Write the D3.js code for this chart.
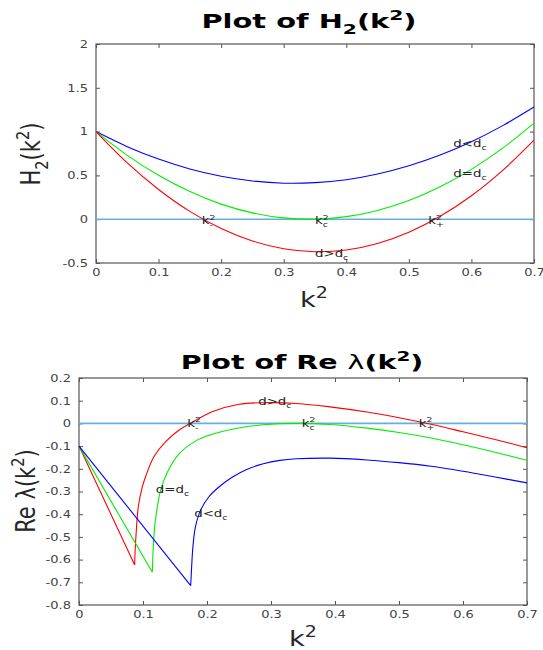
<!DOCTYPE html>
<html>
<head>
<meta charset="utf-8">
<script src="https://cdn.jsdelivr.net/npm/d3@7"></script>
<style>
  body { margin: 0; background: #fff; }
  text { font-family: "DejaVu Sans", sans-serif; }
</style>
</head>
<body>
<div id="chart"></div>
<script>
// ---- data ----
var kTop = [0, 0.05, 0.1, 0.15, 0.2, 0.25, 0.3, 0.35, 0.4, 0.45, 0.5, 0.55, 0.6, 0.65, 0.7];
var h2Blue  = [1, 0.828, 0.686, 0.573, 0.490, 0.436, 0.411, 0.417, 0.451, 0.516, 0.610, 0.733, 0.885, 1.068, 1.280];
var h2Green = [1, 0.729, 0.501, 0.315, 0.172, 0.072, 0.015, 0.001, 0.029, 0.100, 0.213, 0.370, 0.569, 0.811, 1.096];
var h2Red   = [1, 0.642, 0.339, 0.089, -0.107, -0.249, -0.337, -0.371, -0.351, -0.277, -0.149, 0.033, 0.268, 0.558, 0.902];

// second point of each Re(lambda) series is the cusp
var kRed   = [0, 0.087, 0.0875, 0.0896, 0.0927, 0.099, 0.104, 0.117, 0.135, 0.156, 0.174, 0.208, 0.25, 0.288, 0.34, 0.392, 0.45, 0.5, 0.55, 0.6, 0.65, 0.7];
var reRed  = [-0.1, -0.624, -0.573, -0.470, -0.367, -0.279, -0.235, -0.147, -0.081, -0.030, 0, 0.051, 0.084, 0.091, 0.088, 0.073, 0.050, 0.025, -0.004, -0.037, -0.071, -0.107];
var kGreen  = [0, 0.1146, 0.1156, 0.1177, 0.1208, 0.1276, 0.138, 0.156, 0.182, 0.208, 0.25, 0.288, 0.34, 0.392, 0.45, 0.5, 0.55, 0.6, 0.65, 0.7];
var reGreen = [-0.1, -0.656, -0.573, -0.470, -0.396, -0.294, -0.215, -0.135, -0.078, -0.048, -0.020, -0.006, 0, -0.005, -0.021, -0.040, -0.064, -0.094, -0.127, -0.162];
var kBlue  = [0, 0.1745, 0.176, 0.178, 0.182, 0.190, 0.203, 0.219, 0.240, 0.262, 0.288, 0.314, 0.34, 0.392, 0.45, 0.5, 0.55, 0.6, 0.65, 0.7];
var reBlue = [-0.1, -0.715, -0.632, -0.543, -0.455, -0.382, -0.323, -0.279, -0.236, -0.203, -0.178, -0.163, -0.156, -0.153, -0.161, -0.173, -0.189, -0.211, -0.236, -0.262];

var xTicks = [0, 0.1, 0.2, 0.3, 0.4, 0.5, 0.6, 0.7];
var yTicksTop = [-0.5, 0, 0.5, 1, 1.5, 2];
var yTicksBottom = [0.2, 0.1, 0, -0.1, -0.2, -0.3, -0.4, -0.5, -0.6, -0.7, -0.8];

// annotation: [k, value, parts]
var notesTop = [
  [0.571, 0.824, [["d"], ["<"], ["d"], ["c", "sub"]]],
  [0.571, 0.482, [["d"], ["="], ["d"], ["c", "sub"]]],
  [0.169, -0.055, [["k"], ["2", "sup"], ["-", "stack"]]],
  [0.350, -0.055, [["k"], ["2", "sup"], ["c", "stack"]]],
  [0.531, -0.055, [["k"], ["2", "sup"], ["+", "stack"]]],
  [0.350, -0.430, [["d"], [">"], ["d"], ["c", "sub"]]]
];
var notesBottom = [
  [0.280, 0.081, [["d"], [">"], ["d"], ["c", "sub"]]],
  [0.169, -0.014, [["k"], ["2", "sup"], ["-", "stack"]]],
  [0.348, -0.014, [["k"], ["2", "sup"], ["c", "stack"]]],
  [0.531, -0.014, [["k"], ["2", "sup"], ["+", "stack"]]],
  [0.120, -0.305, [["d"], ["="], ["d"], ["c", "sub"]]],
  [0.180, -0.411, [["d"], ["<"], ["d"], ["c", "sub"]]]
];

var svg = d3.select("#chart").append("svg")
    .attr("width", 543)
    .attr("height", 650);

var STRETCH = 1.24;

// text with sub/superscripts, parts = [[str, kind]]
function richText(g, parts, fs) {
    var t = g.append("text").attr("font-size", fs);
    var cur = 0;
    var lastSupW = 0;
    parts.forEach(function(p) {
        var kind = p[1] || "n";
        var shift = 0, size = fs, dx = 0;
        if (kind == "sup") { shift = -0.42 * fs; size = 0.7 * fs; lastSupW = 0.636 * size; }
        if (kind == "sub") { shift = 0.3 * fs; size = 0.7 * fs; }
        if (kind == "stack") { shift = 0.32 * fs; size = 0.7 * fs; dx = -lastSupW; }
        var ts = t.append("tspan")
            .attr("dy", shift - cur)
            .attr("dx", dx)
            .attr("font-size", size)
            .text(p[0]);
        if (kind == "plain") ts.attr("font-weight", "normal");
        cur = shift;
    });
    return t;
}

function placeText(x, y, parts, fs, opts) {
    opts = opts || {};
    var sx = opts.sx || STRETCH;
    var tr = "translate(" + x + "," + y + ") scale(" + sx + ",1)";
    if (opts.rotate) tr += " rotate(-90)";
    var g = svg.append("g").attr("transform", tr);
    var t = richText(g, parts, fs)
        .attr("text-anchor", opts.anchor || "start")
        .attr("fill", opts.fill || "#222");
    if (opts.bold) t.attr("font-weight", "bold");
    return t;
}

function drawPanel(box, yDomain, yTicks) {
    var x = d3.scaleLinear().domain([0, 0.7]).range([box.left, box.right]);
    var y = d3.scaleLinear().domain(yDomain).range([box.bottom, box.top]);

    var fmt = function(d) { return String(+d.toFixed(1)); };

    var gx = svg.append("g").attr("transform", "translate(0," + box.bottom + ")")
        .call(d3.axisBottom(x).tickValues(xTicks).tickSize(-4).tickSizeOuter(0).tickPadding(6).tickFormat(fmt));
    var gy = svg.append("g").attr("transform", "translate(" + box.left + ",0)")
        .call(d3.axisLeft(y).tickValues(yTicks).tickSize(-4).tickSizeOuter(0).tickPadding(6.5).tickFormat(fmt));
    svg.append("g").attr("transform", "translate(0," + box.top + ")")
        .call(d3.axisTop(x).tickValues(xTicks).tickSize(-4).tickSizeOuter(0).tickFormat(""));
    svg.append("g").attr("transform", "translate(" + box.right + ",0)")
        .call(d3.axisRight(y).tickValues(yTicks).tickSize(-4).tickSizeOuter(0).tickFormat(""));

    svg.selectAll(".domain").remove();
    svg.selectAll(".tick line").attr("stroke", "#555");
    [gx, gy].forEach(function(g) {
        g.selectAll("text")
            .attr("font-family", "DejaVu Sans")
            .attr("font-size", 10.5)
            .attr("fill", "#444")
            .attr("transform", "scale(" + STRETCH + ",1)");
    });

    svg.append("rect")
        .attr("x", box.left).attr("y", box.top)
        .attr("width", box.right - box.left)
        .attr("height", box.bottom - box.top)
        .attr("fill", "none")
        .attr("stroke", "#555")
        .attr("stroke-width", 1.2);

    // zero line
    svg.append("line")
        .attr("x1", x(0)).attr("x2", x(0.7))
        .attr("y1", y(0)).attr("y2", y(0))
        .attr("stroke", "#66b0e0")
        .attr("stroke-width", 1.6);

    return {x: x, y: y};
}

function addNotes(sc, notes) {
    notes.forEach(function(n) {
        placeText(sc.x(n[0]), sc.y(n[1]), n[2], 10.5, {sx: 1.27, fill: "#222"});
    });
}

// ---- top panel: H2(k^2) ----
var boxTop = {left: 96, right: 534, top: 44, bottom: 263};
var sc1 = drawPanel(boxTop, [-0.5, 2], yTicksTop);

var smooth1 = d3.line()
    .x(function(d, i) { return sc1.x(kTop[i]); })
    .y(function(d) { return sc1.y(d); })
    .curve(d3.curveCatmullRom);

[[h2Blue, "#0000ff"], [h2Green, "#00ee00"], [h2Red, "#ff0000"]].forEach(function(s) {
    svg.append("path")
        .attr("d", smooth1(s[0]))
        .attr("fill", "none")
        .attr("stroke", s[1])
        .attr("stroke-width", 1.1);
});
addNotes(sc1, notesTop);

// ---- bottom panel: Re lambda(k^2) ----
var boxBot = {left: 79, right: 527, top: 378, bottom: 605};
var sc2 = drawPanel(boxBot, [-0.8, 0.2], yTicksBottom);

var straight = d3.line().x(function(d) { return sc2.x(d[0]); }).y(function(d) { return sc2.y(d[1]); });
var smooth2 = d3.line().x(function(d) { return sc2.x(d[0]); }).y(function(d) { return sc2.y(d[1]); })
    .curve(d3.curveCatmullRom.alpha(0.5));

[[kRed, reRed, "#ff0000"], [kGreen, reGreen, "#00ee00"], [kBlue, reBlue, "#0000ff"]].forEach(function(s) {
    var pts = s[0].map(function(k, i) { return [k, s[1][i]]; });
    svg.append("path")
        .attr("d", straight(pts.slice(0, 2)) + smooth2(pts.slice(1)))
        .attr("fill", "none")
        .attr("stroke", s[2])
        .attr("stroke-width", 1.1);
});
addNotes(sc2, notesBottom);

// ---- titles and axis labels ----
placeText(309, 28, [["Plot of H"], ["2", "sub"], ["(k"], ["2", "sup"], [")"]], 19, {anchor: "middle", bold: true, sx: 1.52, fill: "#000"});
placeText(302, 369, [["Plot of Re "], ["λ", "plain"], ["(k"], ["2", "sup"], [")"]], 19, {anchor: "middle", bold: true, sx: 1.5, fill: "#000"});

placeText(314, 307, [["k"], ["2", "sup"]], 22, {anchor: "middle", fill: "#262626"});
placeText(303, 646, [["k"], ["2", "sup"]], 22, {anchor: "middle", fill: "#262626"});

placeText(40, 154, [["H"], ["2", "sub"], ["(k"], ["2", "sup"], [")"]], 21, {anchor: "middle", rotate: true, fill: "#262626"});
placeText(35, 491, [["Re λ(k"], ["2", "sup"], [")"]], 21, {anchor: "middle", rotate: true, fill: "#262626"});
</script>
</body>
</html>
